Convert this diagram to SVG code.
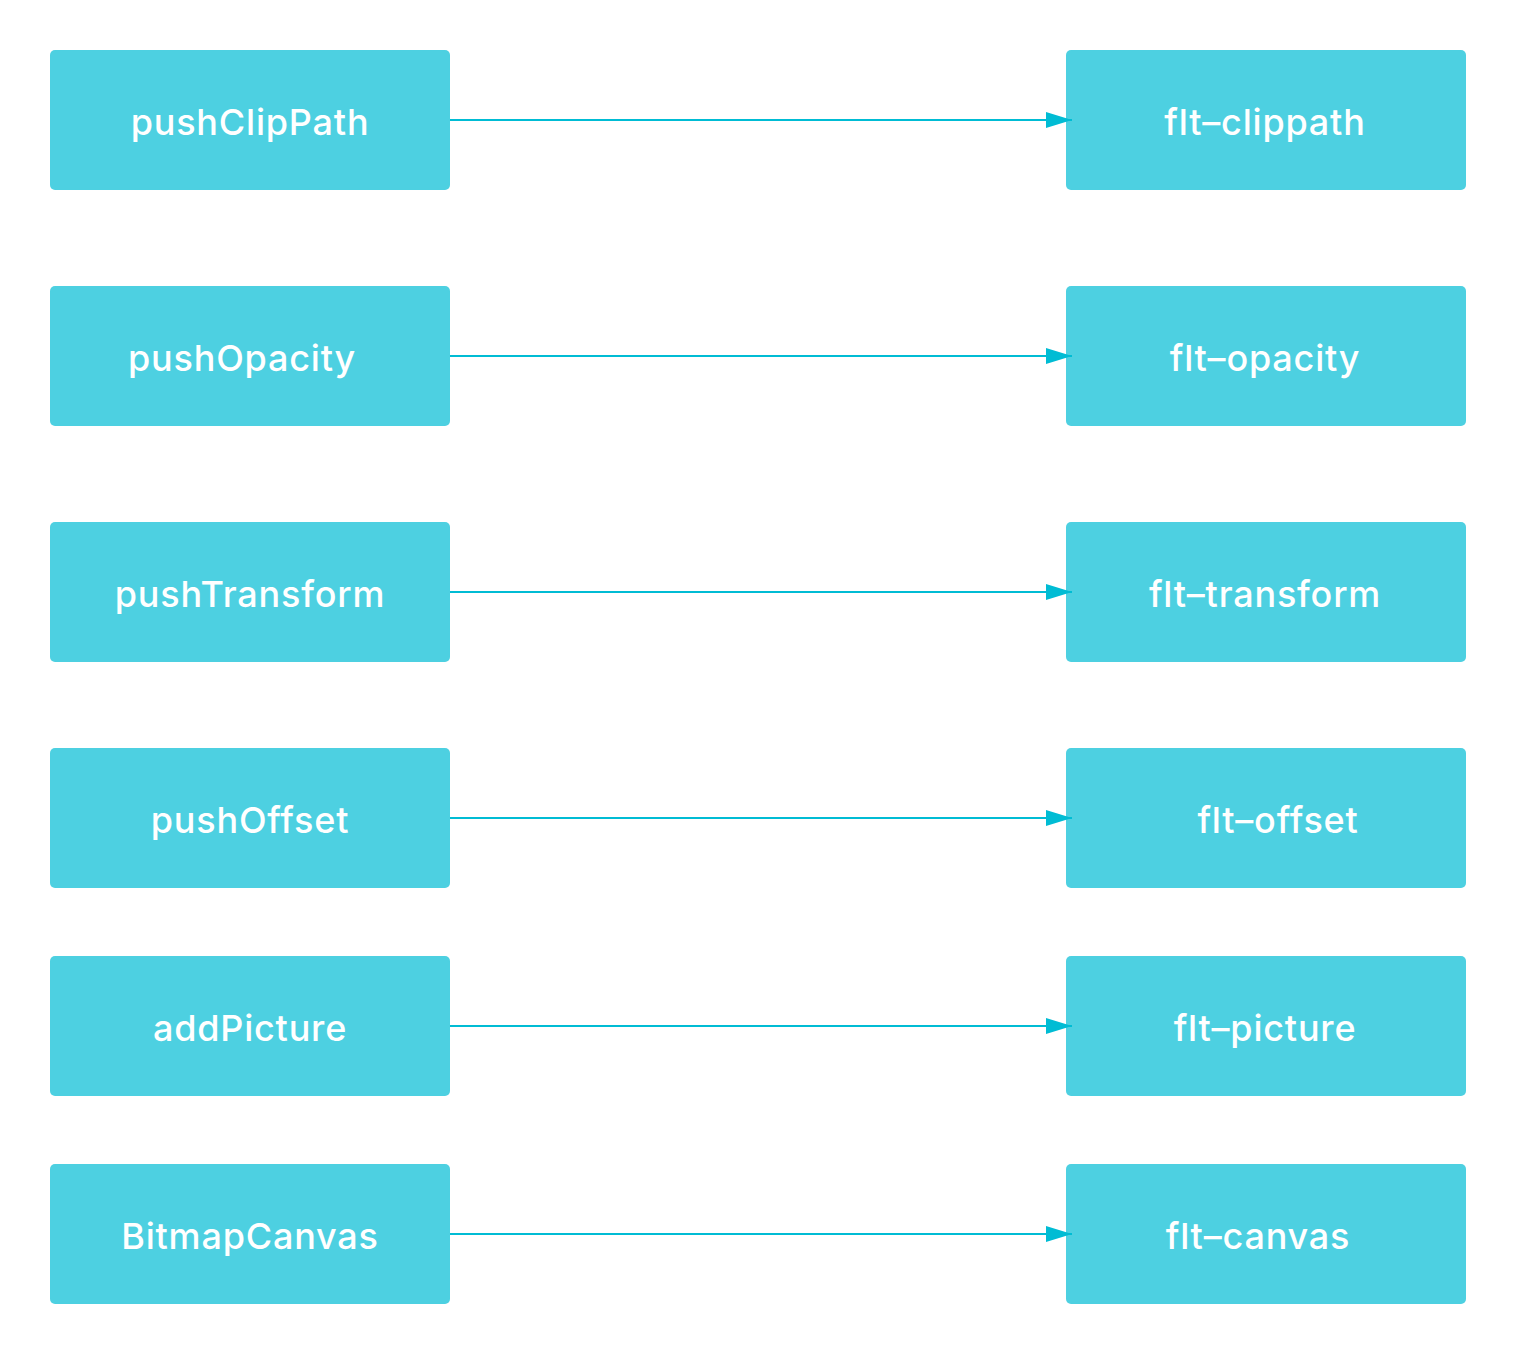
<svg xmlns="http://www.w3.org/2000/svg" width="1516" height="1354" viewBox="0 0 1516 1354">
<defs>
<style>
.box{fill:#4DD0E1;}
.lbl{fill:#FFFFFF;font-family:Inter,"Liberation Sans",sans-serif;font-size:36px;font-weight:500;letter-spacing:0.8px;text-anchor:middle;}
.edge{stroke:#00BCD4;stroke-width:2;fill:none;}
</style>
<marker id="arr" viewBox="0 0 26 16" refX="26" refY="8" markerWidth="26" markerHeight="16" markerUnits="userSpaceOnUse" orient="auto">
<path d="M0,0 L26,8 L0,16 Z" fill="#00BCD4"/>
</marker>
</defs>
<rect width="1516" height="1354" fill="#FFFFFF"/>
<g id="pushClipPath"><rect class="box" x="50" y="50" width="400" height="140" rx="5"/><text class="lbl" x="250" y="135">pushClipPath</text></g>
<g id="pushOpacity"><rect class="box" x="50" y="286" width="400" height="140" rx="5"/><text class="lbl" x="242" y="371">pushOpacity</text></g>
<g id="pushTransform"><rect class="box" x="50" y="522" width="400" height="140" rx="5"/><text class="lbl" x="250" y="607">pushTransform</text></g>
<g id="pushOffset"><rect class="box" x="50" y="748" width="400" height="140" rx="5"/><text class="lbl" x="250" y="833">pushOffset</text></g>
<g id="addPicture"><rect class="box" x="50" y="956" width="400" height="140" rx="5"/><text class="lbl" x="250" y="1041">addPicture</text></g>
<g id="BitmapCanvas"><rect class="box" x="50" y="1164" width="400" height="140" rx="5"/><text class="lbl" x="250" y="1249">BitmapCanvas</text></g>
<g id="flt-clippath"><rect class="box" x="1066" y="50" width="400" height="140" rx="5"/><text class="lbl" x="1265" y="135">flt–clippath</text></g>
<g id="flt-opacity"><rect class="box" x="1066" y="286" width="400" height="140" rx="5"/><text class="lbl" x="1265" y="371">flt–opacity</text></g>
<g id="flt-transform"><rect class="box" x="1066" y="522" width="400" height="140" rx="5"/><text class="lbl" x="1265" y="607">flt–transform</text></g>
<g id="flt-offset"><rect class="box" x="1066" y="748" width="400" height="140" rx="5"/><text class="lbl" x="1278" y="833">flt–offset</text></g>
<g id="flt-picture"><rect class="box" x="1066" y="956" width="400" height="140" rx="5"/><text class="lbl" x="1265" y="1041">flt–picture</text></g>
<g id="flt-canvas"><rect class="box" x="1066" y="1164" width="400" height="140" rx="5"/><text class="lbl" x="1258" y="1249">flt–canvas</text></g>
<g id="connectors">
<line class="edge" x1="450" y1="120" x2="1072" y2="120" marker-end="url(#arr)"/>
<line class="edge" x1="450" y1="356" x2="1072" y2="356" marker-end="url(#arr)"/>
<line class="edge" x1="450" y1="592" x2="1072" y2="592" marker-end="url(#arr)"/>
<line class="edge" x1="450" y1="818" x2="1072" y2="818" marker-end="url(#arr)"/>
<line class="edge" x1="450" y1="1026" x2="1072" y2="1026" marker-end="url(#arr)"/>
<line class="edge" x1="450" y1="1234" x2="1072" y2="1234" marker-end="url(#arr)"/>
</g>
</svg>
